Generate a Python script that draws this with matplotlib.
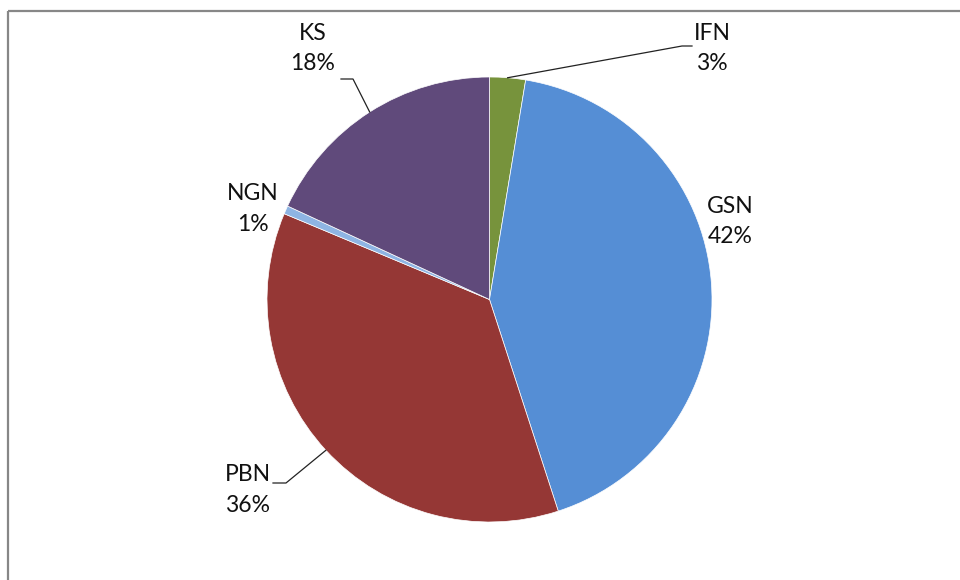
import numpy as np
import matplotlib
matplotlib.use("Agg")
import matplotlib.pyplot as plt

# data (clockwise from 12 o'clock)
labels = ["IFN", "GSN", "PBN", "NGN", "KS"]
values = [2.6, 42.4, 36.3, 0.6, 18.1]
colors = ["#77933C", "#558ED5", "#953735", "#8EB4E3", "#604A7B"]

plt.rcParams['font.family'] = ['Lato', 'DejaVu Sans']

W, H = 960, 580
fig = plt.figure(figsize=(W / 100, H / 100), dpi=100)
ax = fig.add_axes([0, 0, 1, 1])
ax.set_xlim(0, W)
ax.set_ylim(0, H)
ax.set_aspect('equal')
ax.axis('off')

# frame of the chart area
ax.plot([8, W + 5], [H - 11, H - 11], color="#878787", lw=1.6, solid_capstyle='butt')
ax.plot([8, 8], [H - 11, -5], color="#878787", lw=1.6, solid_capstyle='butt')

cx, cy, r = 489.5, H - 299.5, 222.5
wedges, _ = ax.pie(values, colors=colors, startangle=90, counterclock=False,
                   center=(cx, cy), radius=r,
                   wedgeprops=dict(edgecolor="white", linewidth=0.5))
ax.set_xlim(0, W)
ax.set_ylim(0, H)

pct = [f"{round(v / sum(values) * 100):.0f}%" for v in values]

# label block centres (pixel coords from top) and leader elbow points
label_pos = {
    "IFN": (712, 48.5),
    "GSN": (730, 221.5),
    "PBN": (247.5, 490),
    "NGN": (252.5, 209),
    "KS": (313, 48.5),
}
leaders = {
    "IFN": [(692, 46), (682, 46)],
    "PBN": [(273, 483), (286, 483)],
    "KS": [(341, 79), (353, 79)],
}

for w, lab, p in zip(wedges, labels, pct):
    x, y = label_pos[lab]
    ax.text(x, H - y, f"{lab}\n{p}", ha='center', va='center', fontsize=16.5,
            color="#111111", linespacing=1.55)
    if lab in leaders:
        mid = np.deg2rad((w.theta1 + w.theta2) / 2)
        ex, ey = cx + r * np.cos(mid), cy + r * np.sin(mid)
        pts = leaders[lab]
        xs = [pts[0][0], pts[1][0], ex]
        ys = [H - pts[0][1], H - pts[1][1], ey]
        ax.plot(xs, ys, color="#222222", lw=0.9)

fig.savefig("out.png", dpi=100, facecolor="white")
